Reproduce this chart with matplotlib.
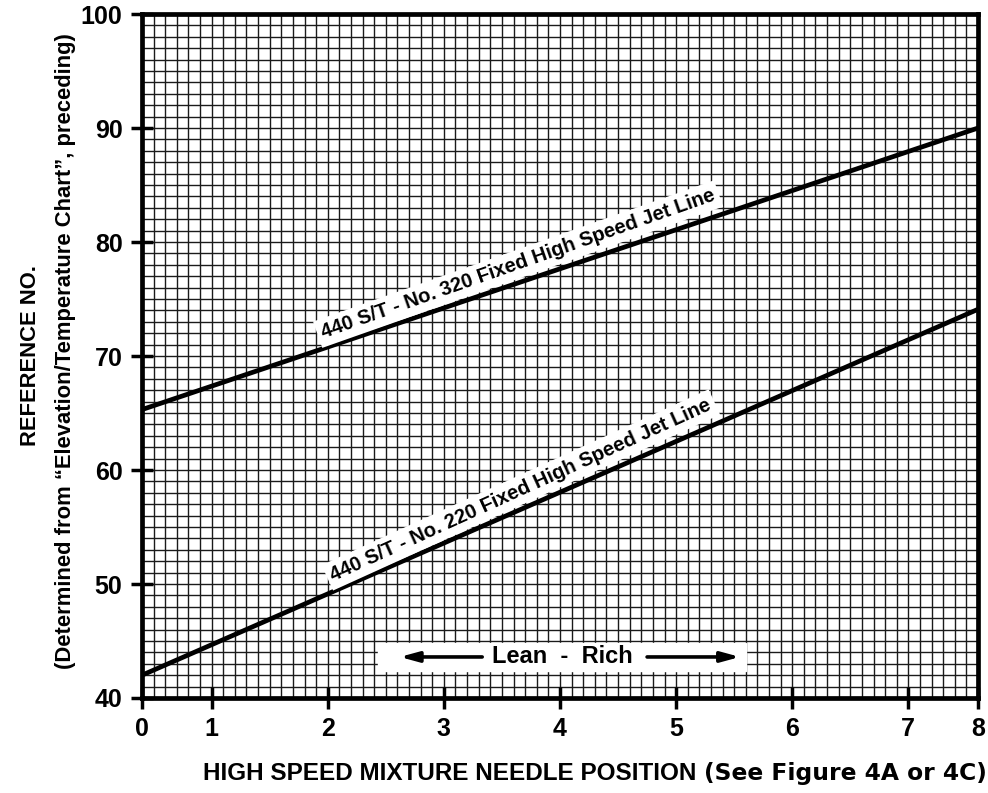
import numpy as np
import matplotlib
matplotlib.use("Agg")
import matplotlib.pyplot as plt

plt.rcParams['font.family'] = ['Liberation Sans', 'DejaVu Sans']
plt.rcParams['font.weight'] = 'bold'

# needle position ticks and where they sit on the chart paper (in grid squares)
needle_pos = [0, 1, 2, 3, 4, 5, 6, 7, 8]
needle_cell = [0, 6, 16, 26, 36, 46, 56, 66, 72]
ref_ticks = [40, 50, 60, 70, 80, 90, 100]

# the two jet lines (ends at needle 0 and needle 8)
jet_x = [0, 8]
jet320_y = [65.3, 90.0]
jet220_y = [42.0, 74.1]
jet320_label = "440 S/T - No. 320 Fixed High Speed Jet Line"
jet220_label = "440 S/T - No. 220 Fixed High Speed Jet Line"


def fwd(x):
    return np.interp(np.asarray(x, dtype=float), needle_pos, needle_cell)


def inv(c):
    return np.interp(np.asarray(c, dtype=float), needle_cell, needle_pos)


fig = plt.figure(figsize=(9.88, 7.93), dpi=100)
ax = fig.add_axes([0.1437, 0.1198, 0.9899 - 0.1437, 0.9823 - 0.1198])
ax.set_xscale('function', functions=(fwd, inv))
ax.set_xlim(0, 8)
ax.set_ylim(40, 100)

# chart paper grid
for c in np.arange(0, 73):
    ax.axvline(inv(c), color='#1a1a1a', lw=1.0, zorder=1)
for v in np.arange(40, 101):
    ax.axhline(v, color='#1a1a1a', lw=1.0, zorder=1)

ax.plot(jet_x, jet320_y, color='black', lw=3.4, zorder=4, solid_capstyle='butt')
ax.plot(jet_x, jet220_y, color='black', lw=3.4, zorder=4, solid_capstyle='butt')

ax.set_xticks(needle_pos)
ax.set_xticklabels([str(v) for v in needle_pos])
ax.set_yticks(ref_ticks)
ax.minorticks_off()
ax.tick_params(axis='both', direction='inout', length=16, width=2.5,
               labelsize=18, pad=6)
for lab in ax.get_xticklabels() + ax.get_yticklabels():
    lab.set_fontweight('bold')
for s in ax.spines.values():
    s.set_linewidth(3.4)
    s.set_zorder(6)

fig.canvas.draw()


def line_label(ys, text, frac):
    p0 = ax.transData.transform((jet_x[0], ys[0]))
    p1 = ax.transData.transform((jet_x[1], ys[1]))
    ang = np.degrees(np.arctan2(p1[1] - p0[1], p1[0] - p0[0])) + 0.8
    pm = p0 + (p1 - p0) * frac
    xd, yd = ax.transData.inverted().transform(pm)
    d = 6
    ox, oy = -np.sin(np.radians(ang)) * d, np.cos(np.radians(ang)) * d
    ax.annotate(text, (xd, yd), xytext=(ox, oy), textcoords='offset points',
                rotation=ang, rotation_mode='anchor', ha='center', va='bottom',
                fontsize=14.5, fontweight='bold', zorder=5,
                bbox=dict(boxstyle='square,pad=0.22', fc='white', ec='none'))


line_label(jet320_y, jet320_label, 0.457)
line_label(jet220_y, jet220_label, 0.462)

# Lean - Rich box
ax.axhspan(42.4, 44.8, xmin=20.3 / 72, xmax=52.0 / 72, color='white', zorder=3)
ax.text(4.02, 43.6, "Lean  -  Rich", ha='center', va='center', fontsize=17,
        fontweight='bold', zorder=5)
ax.annotate('', xy=(2.62, 43.6), xytext=(3.33, 43.6), zorder=5,
            arrowprops=dict(arrowstyle='-|>,head_length=1.1,head_width=0.3',
                            color='black', lw=2.6, shrinkA=0, shrinkB=0))
ax.annotate('', xy=(5.55, 43.6), xytext=(4.75, 43.6), zorder=5,
            arrowprops=dict(arrowstyle='-|>,head_length=1.1,head_width=0.3',
                            color='black', lw=2.6, shrinkA=0, shrinkB=0))

# axis titles
fig.text(0.705, 0.017, "HIGH SPEED MIXTURE NEEDLE POSITION", ha='right',
         va='baseline', fontsize=17.5, fontweight='bold')
fig.text(0.713, 0.017, "(See Figure 4A or 4C)", ha='left', va='baseline',
         fontsize=16.8, fontweight='bold', family=['DejaVu Sans'])
fig.text(0.031, 0.552, "REFERENCE NO.", rotation=90, ha='center', va='center',
         fontsize=15.8, fontweight='bold')
fig.text(0.066, 0.557, "(Determined from \u201cElevation/Temperature Chart\u201d, preceding)",
         rotation=90, ha='center', va='center', fontsize=15.8, fontweight='bold')

fig.savefig('out.png', dpi=100)
